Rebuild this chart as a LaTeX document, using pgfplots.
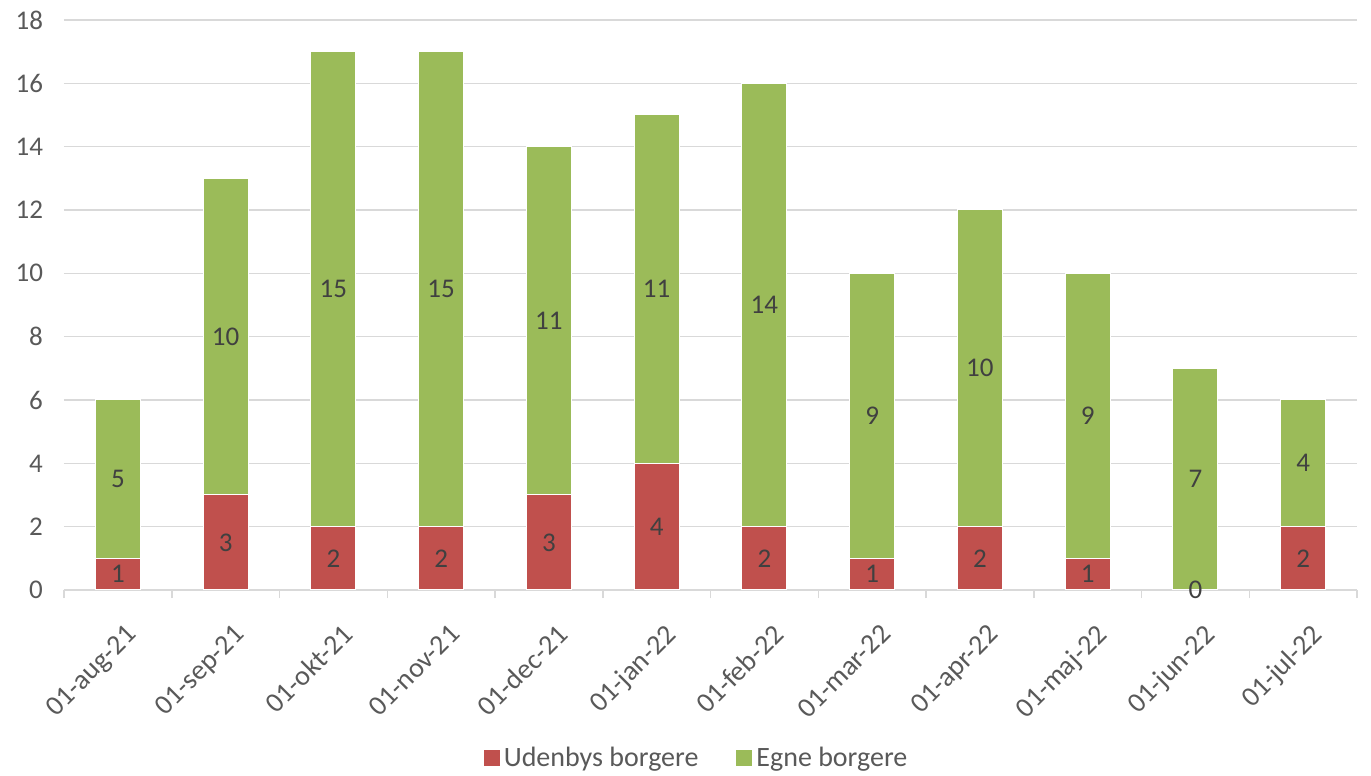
\documentclass[border=0pt]{standalone}
\usepackage{pgfplots}
\usepackage{pgfplotstable}
\pgfplotsset{compat=1.18}
\usepackage{fontspec}
\setmainfont{Carlito}

\definecolor{udenbys}{HTML}{C0504D}
\definecolor{egne}{HTML}{9BBB59}
\definecolor{gridgray}{HTML}{D9D9D9}
\definecolor{ticktext}{HTML}{595959}
\definecolor{labeltext}{HTML}{404040}

% borgere pr. maaned
\pgfplotstableread{
x red green
0 1 5
1 3 10
2 2 15
3 2 15
4 3 11
5 4 11
6 2 14
7 1 9
8 2 10
9 1 9
10 0 7
11 2 4
}\borgere

\pgfplotsset{
    frame/.style={
        scale only axis,
        width=646.5pt, height=285pt,
        ymin=0, ymax=18,
        xmin=-0.5, xmax=11.5,
        /pgf/number format/assume math mode=true,
    },
}

\begin{document}
\begin{tikzpicture}
\begin{axis}[
    frame,
    ybar stacked,
    bar width=22.5pt,
    ytick={0,2,...,18},
    xtick={0,...,11},
    xticklabels={01-aug-21,01-sep-21,01-okt-21,01-nov-21,01-dec-21,01-jan-22,
                 01-feb-22,01-mar-22,01-apr-22,01-maj-22,01-jun-22,01-jul-22},
    extra x ticks={-0.5,0.5,...,11.5},
    extra x tick labels={},
    extra x tick style={major tick length=4pt, tick align=outside,
        tick style={draw=gridgray, line width=0.75pt}},
    major tick length=0pt,
    separate axis lines,
    axis x line*=bottom,
    axis y line*=left,
    x axis line style={draw=gridgray, line width=0.75pt, -},
    y axis line style={draw=none},
    ymajorgrids,
    grid style={draw=gridgray, line width=0.75pt},
    tick label style={font=\fontsize{13.5}{15}\selectfont, text=ticktext},
    yticklabel style={xshift=-7pt},
    xticklabel style={rotate=45, anchor=north east, inner sep=1pt,
        font=\fontsize{14}{16}\selectfont, xshift=-8pt, yshift=-13pt},
    legend columns=2,
    legend style={at={(rel axis cs:0.49,0)}, anchor=center, yshift=-84pt,
        draw=none, fill=none, font=\fontsize{14}{16}\selectfont,
        text=ticktext,
        /tikz/every even column/.append style={column sep=17pt},
        legend cell align=left},
    legend image code/.code={\fill[#1,draw=none] (0pt,-4pt) rectangle (8pt,4pt);},
]
\addplot[fill=udenbys, draw=white, line width=0.5pt]
    table[x=x, y=red] {\borgere};
\addlegendentry{Udenbys borgere}
\addplot[fill=egne, draw=white, line width=0.5pt]
    table[x=x, y=green] {\borgere};
\addlegendentry{Egne borgere}
\end{axis}

% dataetiketter midt i hvert segment
\begin{axis}[
    frame,
    hide axis,
    nodes near coords,
    point meta=explicit,
    every node near coord/.append style={anchor=center,
        font=\fontsize{13.5}{15}\selectfont, text=labeltext},
]
\addplot[draw=none, mark=none, nodes near coords]
    table[x=x, y expr=\thisrow{red}/2, meta=red] {\borgere};
\addplot[draw=none, mark=none, nodes near coords]
    table[x=x, y expr=\thisrow{red}+\thisrow{green}/2, meta=green] {\borgere};
\end{axis}
\pgfresetboundingbox
\path[use as bounding box] ([xshift=-32pt,yshift=-93pt]current axis.south west)
    rectangle ([xshift=7pt,yshift=10pt]current axis.north east);
\end{tikzpicture}
\end{document}
